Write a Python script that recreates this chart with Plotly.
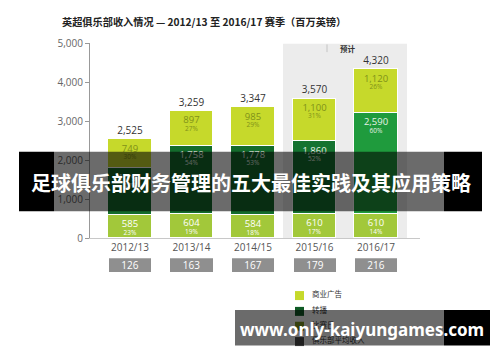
import plotly.graph_objects as go

# ---------------- data ----------------
seasons = ["2012/13", "2013/14", "2014/15", "2015/16", "2016/17"]
commercial = [749, 897, 985, 1100, 1120]
commercial_pct = [30, 27, 29, 31, 26]
broadcast = [1191, 1758, 1778, 1860, 2590]
broadcast_pct = [47, 54, 53, 52, 60]
matchday = [585, 604, 584, 610, 610]
matchday_pct = [23, 19, 18, 17, 14]
totals = [2525, 3259, 3347, 3570, 4320]
club_avg = [126, 163, 167, 179, 216]
y_ticks = [0, 1000, 2000, 3000, 4000, 5000]
legend_labels = ["商业广告", "转播", "比赛日", "俱乐部平均收入"]
title_text = "英超俱乐部收入情况 — 2012/13 至 2016/17 赛季（百万英镑）"
forecast_label = "预计"
banner_text = "足球俱乐部财务管理的五大最佳实践及其应用策略"
url_text = "www.only-kaiyungames.com"

# ---------------- styling ----------------
W, H = 500, 362
C_COM = "#c6d92b"
C_BRO = ["#136b2c", "#136b2c", "#136b2c", "#157330", "#1f9b3d"]
C_MAT = "#a2c83a"
C_AVG = "#8f8f8f"
LBL_COM = "#7f9119"
FONT = "Open Sans, Noto Sans CJK SC, sans-serif"
CJK = "Noto Sans CJK SC, sans-serif"


def px(x):
    return x / W


def py(y):
    return 1 - y / H


Y_TOP_PX, Y_BOT_PX = 37, 240
YMAX = 5000
unit = YMAX / (Y_BOT_PX - Y_TOP_PX)  # data units per pixel
idx = list(range(len(seasons)))
BW = 0.683

fig = go.Figure()

# stacked bars
fig.add_trace(go.Bar(x=idx, y=matchday, name="比赛日", width=BW + 0.02,
                     marker=dict(color=C_MAT, line=dict(color="white", width=1.5))))
fig.add_trace(go.Bar(x=idx, y=broadcast, name="转播", width=BW + 0.02,
                     marker=dict(color=C_BRO, line=dict(color="white", width=1.5))))
fig.add_trace(go.Bar(x=idx, y=commercial, name="商业广告", width=BW + 0.02,
                     marker=dict(color=C_COM, line=dict(color="white", width=1.5))))


# segment labels
def seg_labels(vals, pcts, bases, color):
    tops = [b + v for b, v in zip(bases, vals)]
    fig.add_trace(go.Scatter(
        x=idx, y=[t - 10 * unit for t in tops], mode="text",
        text=[f"{v:,}" for v in vals], textposition="middle center",
        textfont=dict(size=9.5, color=color, family=FONT), cliponaxis=False,
        hoverinfo="skip", showlegend=False))
    fig.add_trace(go.Scatter(
        x=idx, y=[t - 18.5 * unit for t in tops], mode="text",
        text=[f"{p}%" for p in pcts], textposition="middle center",
        textfont=dict(size=6.5, color=color, family=FONT), cliponaxis=False,
        hoverinfo="skip", showlegend=False))


base0 = [0] * 5
base1 = matchday
base2 = [m + b for m, b in zip(matchday, broadcast)]
seg_labels(matchday, matchday_pct, base0, "white")
seg_labels(broadcast, broadcast_pct, base1, "#e6f2e6")
seg_labels(commercial, commercial_pct, base2, LBL_COM)

# totals
fig.add_trace(go.Scatter(
    x=idx, y=[t + 8.5 * unit for t in totals], mode="text",
    text=[f"{t:,}" for t in totals], textposition="middle center",
    textfont=dict(size=10, color="#333", family=FONT), cliponaxis=False,
    hoverinfo="skip", showlegend=False))

# club average boxes
fig.add_trace(go.Bar(x=idx, y=[1] * 5, yaxis="y3", width=BW,
                     marker=dict(color=C_AVG, line=dict(width=0)),
                     text=[str(v) for v in club_avg], textposition="inside",
                     insidetextanchor="middle", constraintext="none",
                     textfont=dict(size=10, color="white", family=FONT),
                     hoverinfo="skip", showlegend=False))

# manual legend (pixel axis)
leg_colors = [C_COM, "#0f5a24", "#7f9a22", "#4a4a4a"]
leg_y = [300, 316.5, 332, 348]
fig.add_trace(go.Scatter(x=[299.5] * 4, y=leg_y, xaxis="x2", yaxis="y2",
                         mode="markers",
                         marker=dict(symbol="square", size=9, color=leg_colors),
                         hoverinfo="skip", showlegend=False))
fig.add_trace(go.Scatter(x=[312] * 4, y=leg_y, xaxis="x2", yaxis="y2",
                         mode="text", text=legend_labels,
                         textposition="middle right",
                         textfont=dict(size=7.5, color="#333", family=CJK),
                         hoverinfo="skip", showlegend=False))

shapes = [
    # forecast shading
    dict(type="rect", xref="x", yref="y", x0=2.488, x1=4.504, y0=0, y1=YMAX,
         fillcolor="#ececec", line=dict(width=0), layer="below"),
    dict(type="line", xref="paper", yref="paper", x0=px(327), x1=px(327),
         y0=py(46), y1=py(38), line=dict(color="#c4c4c4", width=1)),
    # overlay banners
    dict(type="rect", xref="paper", yref="paper", x0=px(19), x1=px(54),
         y0=py(212), y1=py(150), fillcolor="black", line=dict(width=0), layer="above"),
    dict(type="rect", xref="paper", yref="paper", x0=px(54), x1=px(444),
         y0=py(212), y1=py(150), fillcolor="rgba(0,0,0,0.58)", line=dict(width=0), layer="above"),
    dict(type="rect", xref="paper", yref="paper", x0=px(444), x1=px(482),
         y0=py(212), y1=py(150), fillcolor="black", line=dict(width=0), layer="above"),
    dict(type="rect", xref="paper", yref="paper", x0=px(235), x1=px(444),
         y0=py(352), y1=py(315), fillcolor="rgba(0,0,0,0.58)", line=dict(width=0), layer="above"),
    dict(type="rect", xref="paper", yref="paper", x0=px(444), x1=px(490),
         y0=py(352), y1=py(315), fillcolor="black", line=dict(width=0), layer="above"),
]

annotations = [
    dict(xref="paper", yref="paper", x=px(60), y=py(14), xanchor="left", yanchor="middle",
         text=f"<b>{title_text}</b>", showarrow=False,
         font=dict(size=10.2, color="#222", family=CJK)),
    dict(xref="paper", yref="paper", x=px(348), y=py(42), xanchor="center", yanchor="middle",
         text=f"<b>{forecast_label}</b>", showarrow=False,
         font=dict(size=7.5, color="#333", family=CJK)),
    dict(xref="paper", yref="paper", x=px(250.5), y=py(182), xanchor="center", yanchor="middle",
         text=f"<b>{banner_text}</b>", showarrow=False,
         font=dict(size=20, color="white", family=CJK)),
    dict(xref="paper", yref="paper", x=px(362), y=py(335), xanchor="center", yanchor="middle",
         text=f"<b>{url_text}</b>", showarrow=False,
         font=dict(size=17, color="white", family="Noto Sans, sans-serif")),
]

fig.update_layout(
    width=W, height=H, margin=dict(l=0, r=0, t=0, b=0),
    paper_bgcolor="white", plot_bgcolor="rgba(0,0,0,0)",
    barmode="stack", bargap=0, showlegend=False,
    font=dict(family=FONT),
    xaxis=dict(domain=[px(90), px(420)], range=[-0.65, 4.715], anchor="y",
               tickvals=idx, ticktext=seasons, ticks="", showgrid=False, zeroline=False,
               showline=True, linecolor="#c8c8c8", linewidth=1,
               tickfont=dict(size=10, color="#555", family=FONT)),
    yaxis=dict(domain=[py(Y_BOT_PX), py(Y_TOP_PX)], range=[0, YMAX], anchor="x",
               tickvals=y_ticks, tickformat=",", ticks="outside", ticklen=4,
               tickcolor="#999", showline=True, linecolor="#999", linewidth=1,
               showgrid=False, zeroline=False,
               tickfont=dict(size=10, color="#666", family=FONT)),
    yaxis3=dict(domain=[py(276), py(261)], range=[0, 1], anchor="x", visible=False),
    xaxis2=dict(domain=[0, 1], range=[0, W], anchor="y2", visible=False),
    yaxis2=dict(domain=[0, 1], range=[H, 0], anchor="x2", visible=False),
    shapes=shapes, annotations=annotations,
)

fig.write_html("out.html", config={"displayModeBar": False},
               post_script="document.body.style.margin='0';document.body.style.overflow='hidden';")
